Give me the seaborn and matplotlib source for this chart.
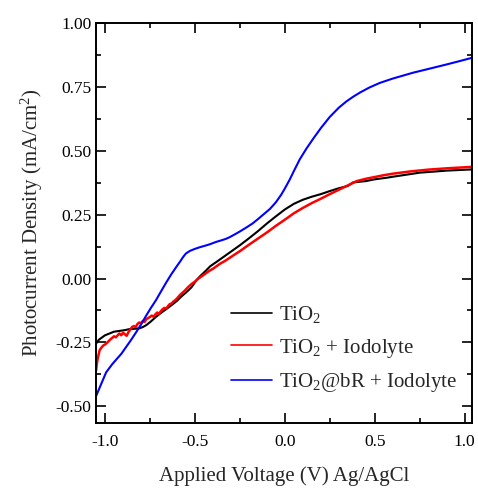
# Photocurrent density vs applied voltage
import pandas as pd
import seaborn as sns
import matplotlib.pyplot as plt
from matplotlib.ticker import MultipleLocator, FormatStrFormatter

# TiO2
black_x = [-1.05, -1.035, -1.02, -1.0, -0.975, -0.95, -0.92, -0.89, -0.865, -0.84, -0.81,
           -0.79, -0.77, -0.745, -0.72, -0.69, -0.66, -0.63, -0.6, -0.575, -0.55, -0.52,
           -0.49, -0.47, -0.44, -0.415, -0.38, -0.35, -0.3, -0.25, -0.2, -0.15, -0.1, -0.05,
           0.0, 0.05, 0.1, 0.15, 0.2, 0.25, 0.3, 0.35, 0.38, 0.45, 0.5, 0.565, 0.6, 0.75,
           0.9, 1.05]
black_y = [-0.255, -0.24, -0.232, -0.222, -0.215, -0.208, -0.205, -0.202, -0.198, -0.197,
           -0.195, -0.19, -0.182, -0.168, -0.152, -0.135, -0.12, -0.104, -0.0875, -0.07,
           -0.055, -0.035, -0.005, 0.01, 0.03, 0.048, 0.065, 0.08, 0.105, 0.13, 0.157,
           0.185, 0.215, 0.243, 0.27, 0.292, 0.308, 0.32, 0.33, 0.342, 0.353, 0.362, 0.376,
           0.381, 0.388, 0.394, 0.398, 0.414, 0.422, 0.427]

# TiO2 + Iodolyte
red_x = [-1.05, -1.045, -1.04, -1.035, -1.03, -1.02, -1.01, -1.0, -0.99, -0.98, -0.97, -0.96,
         -0.95, -0.94, -0.93, -0.92, -0.91, -0.9, -0.89, -0.88, -0.87, -0.86, -0.85, -0.84,
         -0.83, -0.82, -0.81, -0.8, -0.79, -0.78, -0.77, -0.76, -0.75, -0.74, -0.73, -0.72,
         -0.71, -0.7, -0.69, -0.68, -0.67, -0.66, -0.65, -0.64, -0.63, -0.62, -0.61, -0.6,
         -0.58, -0.56, -0.54, -0.52, -0.5, -0.48, -0.46, -0.44, -0.42, -0.4, -0.38, -0.36,
         -0.33, -0.3, -0.27, -0.25, -0.2, -0.15, -0.1, -0.05, 0.0, 0.05, 0.1, 0.15, 0.2, 0.25,
         0.3, 0.35, 0.4, 0.45, 0.5, 0.55, 0.6, 0.7, 0.8, 0.9, 1.0, 1.05]
red_y = [-0.36, -0.33, -0.31, -0.295, -0.28, -0.27, -0.262, -0.258, -0.252, -0.245, -0.238,
         -0.232, -0.226, -0.23, -0.222, -0.215, -0.222, -0.212, -0.218, -0.224, -0.21, -0.2,
         -0.19, -0.186, -0.19, -0.178, -0.172, -0.175, -0.166, -0.17, -0.158, -0.155, -0.15,
         -0.145, -0.15, -0.14, -0.133, -0.138, -0.128, -0.12, -0.115, -0.118, -0.108, -0.1,
         -0.098, -0.09, -0.085, -0.078, -0.062, -0.05, -0.035, -0.022, -0.012, 0.0, 0.01,
         0.02, 0.03, 0.038, 0.048, 0.058, 0.07, 0.084, 0.098, 0.107, 0.132, 0.156, 0.18,
         0.206, 0.23, 0.255, 0.276, 0.295, 0.312, 0.33, 0.347, 0.364, 0.381, 0.39, 0.397,
         0.404, 0.41, 0.419, 0.426, 0.431, 0.435, 0.437]

# TiO2@bR + Iodolyte
blue_x = [-1.05, -1.02, -0.994, -0.96, -0.939, -0.91, -0.883, -0.855, -0.828, -0.8, -0.772,
          -0.745, -0.717, -0.69, -0.661, -0.633, -0.606, -0.583, -0.565, -0.55, -0.528, -0.5,
          -0.47, -0.44, -0.417, -0.383, -0.35, -0.328, -0.306, -0.28, -0.25, -0.213, -0.18,
          -0.15, -0.12, -0.083, -0.05, -0.02, 0.0, 0.028, 0.05, 0.083, 0.12, 0.157, 0.2, 0.25,
          0.3, 0.343, 0.38, 0.417, 0.47, 0.528, 0.6, 0.713, 0.8, 0.898, 0.97, 1.05]
blue_y = [-0.46, -0.41, -0.367, -0.335, -0.318, -0.295, -0.268, -0.24, -0.211, -0.18, -0.146,
          -0.115, -0.085, -0.052, -0.017, 0.015, 0.043, 0.066, 0.085, 0.098, 0.108, 0.116,
          0.123, 0.129, 0.134, 0.143, 0.15, 0.155, 0.162, 0.172, 0.184, 0.2, 0.215, 0.232,
          0.25, 0.272, 0.298, 0.328, 0.352, 0.388, 0.42, 0.466, 0.508, 0.546, 0.588, 0.632,
          0.668, 0.693, 0.711, 0.727, 0.747, 0.765, 0.782, 0.805, 0.82, 0.837, 0.85, 0.865]

labels = ['TiO$_2$', 'TiO$_2$ + Iodolyte', 'TiO$_2$@bR + Iodolyte']
colors = ['black', 'red', 'blue']

frames = []
for lab, xs, ys in zip(labels, [black_x, red_x, blue_x], [black_y, red_y, blue_y]):
    frames.append(pd.DataFrame({'V': xs, 'J': ys, 'sample': lab}))
data = pd.concat(frames, ignore_index=True)

sns.set_style('ticks')
plt.rcParams['font.family'] = ['Liberation Serif', 'DejaVu Serif']
plt.rcParams['mathtext.fontset'] = 'custom'
plt.rcParams['mathtext.rm'] = 'Liberation Serif'
plt.rcParams['mathtext.it'] = 'Liberation Serif:italic'
plt.rcParams['axes.unicode_minus'] = False

fig = plt.figure(figsize=(4.78, 4.97), dpi=100)
ax = fig.add_axes([0.201, 0.149, 0.786, 0.805])

sns.lineplot(data=data, x='V', y='J', hue='sample', hue_order=labels,
             palette=dict(zip(labels, colors)), sort=False, estimator=None,
             linewidth=1.5, ax=ax)
ax.lines[1].set_linewidth(1.8)

ax.set_xlim(-1.05, 1.04)
ax.set_ylim(-0.565, 1.0)
ax.xaxis.set_major_locator(MultipleLocator(0.5))
ax.xaxis.set_minor_locator(MultipleLocator(0.25))
ax.yaxis.set_major_locator(MultipleLocator(0.25))
ax.yaxis.set_minor_locator(MultipleLocator(0.125))
ax.xaxis.set_major_formatter(FormatStrFormatter('%.1f'))
ax.yaxis.set_major_formatter(FormatStrFormatter('%.2f'))
ax.tick_params(which='both', direction='in', top=True, right=True, width=1.2,
               colors='black', labelsize=12.5)
ax.tick_params(which='major', length=7)
ax.tick_params(which='minor', length=3.5)
ax.tick_params(axis='x', pad=8)
for s in ax.spines.values():
    s.set_linewidth(1.4)
    s.set_color('black')

ax.set_xlabel('Applied Voltage (V) Ag/AgCl', fontsize=15, labelpad=12)
ax.set_ylabel('Photocurrent Density (mA/cm$^2$)', fontsize=15, labelpad=7)

leg = ax.legend(loc='lower right', bbox_to_anchor=(1.016, 0.02), frameon=False,
                fontsize=15, handlelength=2.0, labelspacing=0.55, handletextpad=0.3,
                borderaxespad=0.6)
for h in leg.get_lines():
    h.set_linewidth(1.2)

fig.savefig('out.png', dpi=100)
